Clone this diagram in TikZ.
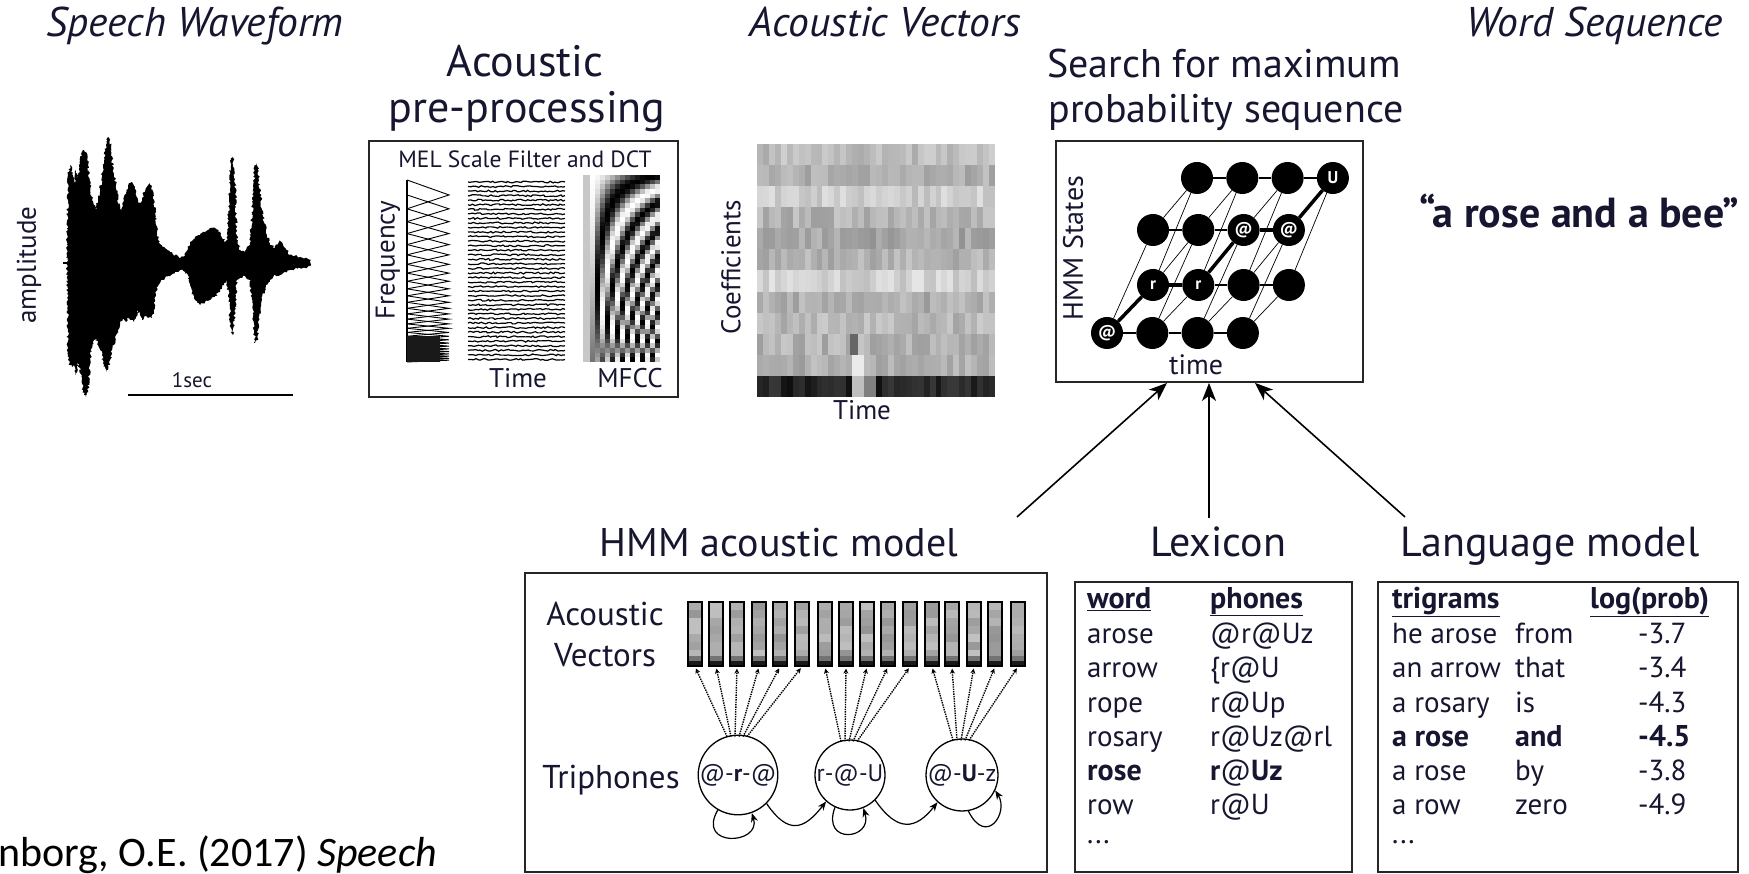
\documentclass[tikz,border=0pt]{standalone}
\usepackage{fontspec}
\setmainfont{PT Sans}
\newfontfamily\citefont{Carlito}
\usetikzlibrary{arrows.meta,calc,decorations.pathmorphing}
\definecolor{textcol}{RGB}{22,22,48}
\newcommand{\fsz}[1]{\fontsize{#1}{#1}\selectfont}

\begin{document}
\begin{tikzpicture}[x=1pt,y=-1pt,
  lbl/.style={inner sep=0pt, text=textcol},
  headit/.style={lbl, font=\fsz{41.5}\itshape, anchor=base},
  head/.style={lbl, font=\fsz{40}, anchor=base},
  small/.style={lbl, font=\fsz{27}},
  tab/.style={lbl, font=\fsz{29}, anchor=base west},
  tabb/.style={lbl, font=\fsz{30}\bfseries, anchor=base west},
  frame/.style={draw=black!85, line width=1.8pt, inner sep=0pt},
  st/.style={circle, fill=black, minimum size=32pt, inner sep=0pt, text=white, font=\fsz{17}\bfseries},
  latthin/.style={line width=0.7pt},
  latrow/.style={line width=1.3pt},
  latpath/.style={line width=3.5pt},
  tri/.style={circle, draw, line width=1.3pt, minimum size=70pt, inner sep=0pt, font=\fsz{24}, text=textcol},
  bar/.style={draw, line width=1.3pt, minimum width=14pt, minimum height=64pt, inner sep=0pt},
  feed/.style={densely dotted, line width=1.4pt, shorten >=2pt, -{Stealth[length=5pt,width=5pt]}},
  trans/.style={line width=1.2pt, -{Stealth[length=9pt,width=7pt]}},
  bigarrow/.style={line width=1.6pt, -{Stealth[length=18pt,width=14pt,inset=5pt]}}
]
\fill[white] (0,0) rectangle (1749,874);
\useasboundingbox (0,0) rectangle (1749,874);

% ---------- column titles ----------
\node[headit] (tWave) at (195,37) {Speech Waveform};
\node[headit] (tVec) at (885,37) {Acoustic Vectors};
\node[headit, anchor=base east] (tWord) at (1723,37) {Word Sequence};
\node[head, font=\fsz{44}] (tAc1) at (525,77) {Acoustic};
\node[head, font=\fsz{44}] (tAc2) at (527,123) {pre-processing};
\node[head] (tSe1) at (1224,78) {Search for maximum};
\node[head] (tSe2) at (1226,123) {probability sequence};

% ---------- speech waveform ----------
\node[lbl, font=\fsz{27}, rotate=90] (amp) at (29,265) {amplitude};
\draw[line width=1.2pt] (63,263) -- (70,263);
\fill[black, decorate, decoration={random steps, segment length=1.6pt, amplitude=1.3pt}]
  plot coordinates {(67,262) (68,175) (70,165) (72,168) (74,185) (76,170) (78,178) (80,160) (82,152) (84,150) (86,152) (88,165) (90,185) (92,200) (94,205) (96,210) (98,200) (100,190) (102,175) (104,160) (106,145) (108,137) (110,140) (112,160) (114,175) (116,185) (118,200) (120,208) (122,213) (124,200) (126,192) (128,186) (130,183) (132,182) (134,186) (136,195) (138,200) (140,203) (142,198) (144,192) (146,188) (148,185) (150,183) (152,186) (154,200) (156,225) (158,240) (160,244) (165,248) (170,252) (175,255) (180,258) (185,256) (188,248) (190,242) (195,237) (200,235) (205,232) (210,228) (215,228) (220,232) (224,240) (227,245) (229,200) (231,160) (233,157) (235,180) (237,240) (240,250) (245,252) (250,245) (253,200) (255,165) (257,163) (259,180) (262,210) (266,230) (270,245) (275,248) (280,240) (283,245) (290,255) (300,257) (305,258) (310,261)
   (310,266) (305,268) (300,268) (290,270) (283,273) (280,275) (275,275) (270,280) (266,285) (262,300) (259,320) (257,340) (255,343) (253,310) (250,280) (245,276) (240,278) (237,280) (235,310) (233,335) (231,333) (229,300) (227,280) (224,285) (220,292) (215,296) (210,300) (205,302) (200,305) (195,300) (190,285) (188,275) (185,272) (180,270) (175,272) (170,276) (165,278) (160,283) (158,286) (156,295) (154,310) (152,318) (150,317) (148,318) (146,316) (144,318) (142,320) (140,315) (138,310) (136,318) (134,322) (132,320) (130,320) (128,318) (126,322) (124,318) (122,320) (120,325) (118,330) (116,335) (114,345) (112,350) (110,360) (108,370) (106,372) (104,365) (102,355) (100,350) (98,345) (96,338) (94,340) (92,345) (90,365) (88,390) (86,397) (84,395) (82,380) (80,368) (78,362) (76,375) (74,365) (72,367) (70,365) (68,360) (67,265)} -- cycle;
\draw[line width=1.4pt] (128,395) -- (293,395);
\node[lbl, font=\fsz{21}, anchor=base] (sec) at (192,388) {1sec};

% ---------- acoustic pre-processing ----------
\node[frame, minimum width=309pt, minimum height=256pt] (pre) at (523.5,269) {};
\node[lbl, font=\fsz{23.5}, anchor=base] (mel) at (525,168) {MEL Scale Filter and DCT};
\node[small, rotate=90] (freq) at (388,260) {Frequency};
% triangular filter bank
\draw[line width=2.6pt] (407,180) -- (407,362);
\foreach \k in {1,...,28}{
  \pgfmathsetmacro\ya{362-182*(exp(2.2*(\k-1)/29)-1)/(exp(2.2)-1)}
  \pgfmathsetmacro\yb{362-182*(exp(2.2*\k/29)-1)/(exp(2.2)-1)}
  \pgfmathsetmacro\yc{362-182*(exp(2.2*(\k+1)/29)-1)/(exp(2.2)-1)}
  \draw[line width=0.9pt] (407,\ya) -- (449,\yb) -- (407,\yc);
}
\fill[black!90] (407,336) rectangle (440,362);
% filter outputs over time
\foreach \j in {0,...,39}{
  \pgfmathsetmacro\yy{182+\j*4.55}
  \draw[line width=1.2pt, decorate, decoration={random steps, segment length=2.5pt, amplitude=0.9pt}] (468,\yy) -- (565,\yy);
}
\node[small, anchor=base] (tTime) at (518,388) {Time};
% DCT basis image
\fill[black!22] (583,175) rectangle (590,362);
\foreach \c in {0,...,13}{
  \foreach \r in {0,...,39}{
    \pgfmathsetmacro\g{50-50*cos(180*((\c+0.5)/14)*(1+14*(\r+0.5)/40))}
    \fill[black!\g] ({590+\c*5},{175+\r*4.675}) rectangle +(5.3,4.95);
  }
}
\node[small, anchor=base] (mfcc) at (630,388) {MFCC};

% ---------- acoustic vectors ----------
\pgfmathsetseed{11}
\foreach \r/\base in {0/26,1/32,2/20,3/30,4/35,5/30,6/18,7/32,8/28,9/30,10/32,11/86}{
  \foreach \c in {0,...,39}{
    \pgfmathsetmacro\g{max(0,min(100,\base+16*rnd-8))}
    \fill[black!\g] ({757+\c*5.95},{144+\r*21.08}) rectangle +(6.2,21.3);
  }
}
\fill[black!8] (852,355) rectangle (864,376);
\fill[black!25] (852,376) rectangle (864,397);
\fill[black!50] (864,376) rectangle (876,397);
\fill[black!60] (850,334) rectangle (858,355);
\node[lbl, font=\fsz{27}, rotate=90] (coef) at (731,267) {Coefficients};
\node[lbl, font=\fsz{27}, anchor=base] (vTime) at (862,420) {Time};

% ---------- search lattice ----------
\node[frame, minimum width=307pt, minimum height=241pt] (search) at (1209.5,261.5) {};
\node[lbl, font=\fsz{28}, rotate=90] (hmmst) at (1073,248) {HMM States};
\node[lbl, font=\fsz{28}, anchor=base] (ltime) at (1196,375) {time};
\foreach \r/\y/\xs in {0/333/1107,1/285/1153,2/230/1153,3/178/1197}{
  \foreach \c in {0,...,3}{
    \coordinate (p\r\c) at ({\xs+45.3*\c},\y);
  }
}
\node[st] (t00) at (p00) {@};
\node[st] (t01) at (p01) {};
\node[st] (t02) at (p02) {};
\node[st] (t03) at (p03) {};
\node[st] (t10) at (p10) {r};
\node[st] (t11) at (p11) {r};
\node[st] (t12) at (p12) {};
\node[st] (t13) at (p13) {};
\node[st] (t20) at (p20) {};
\node[st] (t21) at (p21) {};
\node[st] (t22) at (p22) {@};
\node[st] (t23) at (p23) {@};
\node[st] (t30) at (p30) {};
\node[st] (t31) at (p31) {};
\node[st] (t32) at (p32) {};
\node[st] (t33) at (p33) {U};
% row links
\foreach \r in {0,...,3}{
  \draw[latrow] (t\r0) -- (t\r1);
  \draw[latrow] (t\r1) -- (t\r2);
  \draw[latrow] (t\r2) -- (t\r3);
}
% diagonal links
\foreach \c in {0,...,3}{
  \draw[latthin] (t0\c) -- (t1\c);
  \draw[latthin] (t2\c) -- (t3\c);
  \draw[latthin] (t0\c) -- (t2\c);
  \draw[latthin] (t1\c) -- (t3\c);
}
\foreach \c/\d in {0/1,1/2,2/3}{
  \draw[latthin] (t1\c) -- (t2\d);
}
% best path
\draw[latpath] (t00) -- (t10);
\draw[latpath] (t10) -- (t11);
\draw[latpath] (t11) -- (t22);
\draw[latpath] (t22) -- (t23);
\draw[latpath] (t23) -- (t33);

\node[lbl, font=\fsz{42}\bfseries, anchor=base] (words) at (1579,228) {“a rose and a bee”};

% ---------- knowledge sources ----------
\node[head] (tHmm) at (779,556) {HMM acoustic model};
\node[head, font=\fsz{42}] (tLex) at (1218,556) {Lexicon};
\node[head, font=\fsz{42}] (tLang) at (1550,556) {Language model};

\coordinate (sA) at (1017,517);
\coordinate (sB) at (1209,518);
\coordinate (sC) at (1405,517);
\coordinate (eA) at (1167,0);
\coordinate (eB) at (1209,0);
\coordinate (eC) at (1255,0);
\draw[bigarrow] (sA) -- (search.south -| eA);
\draw[bigarrow] (sB) -- (search.south -| eB);
\draw[bigarrow] (sC) -- (search.south -| eC);

% HMM acoustic model
\node[frame, minimum width=522pt, minimum height=299pt] (hmm) at (786,722.5) {};
\node[lbl, font=\fsz{33}, anchor=base] (hAc) at (605,625) {Acoustic};
\node[lbl, font=\fsz{33}, anchor=base] (hVe) at (605,666) {Vectors};
\node[lbl, font=\fsz{33}, anchor=base] (hTri) at (611,788) {Triphones};
\pgfmathsetseed{5}
\foreach \x [count=\i] in {695,716,737,759,780,802,825,846,867,888,910,932,952,974,995,1018}{
  \foreach \s in {0,...,6}{
    \pgfmathsetmacro\g{24+18*rnd}
    \fill[black!\g] ({\x-7},{602+\s*8}) rectangle +(14,8.3);
  }
  \fill[black!55] ({\x-7},656) rectangle +(14,5);
  \fill[black!90] ({\x-7},661) rectangle +(14,5);
  \node[bar] (b\i) at (\x,634) {};
}
\node[tri] (c1) at (738,775) {@-\textbf{r}-@};
\node[tri] (c2) at (850,775) {r-@-U};
\node[tri] (c3) at (962,775) {@-\textbf{U}-z};
\foreach \b/\o in {1/-11,2/-7,3/-3,4/1,5/5,6/9}{
  \draw[feed] ($(c1.north)+(\o,2)$) -- (b\b.south);
}
\foreach \b/\o in {7/-9,8/-5,9/-1,10/3,11/7}{
  \draw[feed] ($(c2.north)+(\o,2)$) -- (b\b.south);
}
\foreach \b/\o in {12/-9,13/-5,14/-1,15/3,16/7}{
  \draw[feed] ($(c3.north)+(\o,2)$) -- (b\b.south);
}
\draw[trans] (c1.240) .. controls +(-22,38) and +(10,32) .. (c1.290);
\draw[trans] (c1.315) .. controls +(22,32) and +(-22,28) .. (c2.228);
\draw[trans] (c2.245) .. controls +(-14,38) and +(10,32) .. (c2.292);
\draw[trans] (c2.315) .. controls +(22,32) and +(-22,28) .. (c3.228);
\draw[trans] (c3.280) .. controls +(18,36) and +(14,22) .. (c3.335);

% Lexicon
\node[frame, minimum width=277pt, minimum height=290pt] (lex) at (1213.5,727) {};
\node[tabb] (lw0) at (1087,608) {\underline{word}};
\node[tabb] (lp0) at (1210,608) {\underline{phones}};
\node[tab] (lw1) at (1087,643) {arose};   \node[tab] (lp1) at (1210,643) {@r@Uz};
\node[tab] (lw2) at (1087,677) {arrow};   \node[tab] (lp2) at (1210,677) {\{r@U};
\node[tab] (lw3) at (1087,712) {rope};    \node[tab] (lp3) at (1210,712) {r@Up};
\node[tab] (lw4) at (1087,746) {rosary};  \node[tab] (lp4) at (1210,746) {r@Uz@rl};
\node[tabb] (lw5) at (1087,780) {rose};   \node[tab] (lp5) at (1210,780) {\textbf{r}@\textbf{Uz}};
\node[tab] (lw6) at (1087,814) {row};     \node[tab] (lp6) at (1210,814) {r@U};
\node[tab] (lw7) at (1087,843) {...};

% Language model
\node[frame, minimum width=360pt, minimum height=290pt] (lang) at (1558,727) {};
\node[tabb] (g0) at (1392,608) {\underline{trigrams}};
\node[tabb] (q0) at (1590,608) {\underline{log(prob)}};
\node[tab] (g1) at (1392,643) {he arose}; \node[tab] (h1) at (1515,643) {from}; \node[tab] (q1) at (1638,643) {-3.7};
\node[tab] (g2) at (1392,677) {an arrow}; \node[tab] (h2) at (1515,677) {that}; \node[tab] (q2) at (1638,677) {-3.4};
\node[tab] (g3) at (1392,712) {a rosary}; \node[tab] (h3) at (1515,712) {is};   \node[tab] (q3) at (1638,712) {-4.3};
\node[tabb] (g4) at (1392,746) {a rose};  \node[tabb] (h4) at (1515,746) {and}; \node[tabb] (q4) at (1638,746) {-4.5};
\node[tab] (g5) at (1392,780) {a rose};   \node[tab] (h5) at (1515,780) {by};   \node[tab] (q5) at (1638,780) {-3.8};
\node[tab] (g6) at (1392,814) {a row};    \node[tab] (h6) at (1515,814) {zero}; \node[tab] (q6) at (1638,814) {-4.9};
\node[tab] (g7) at (1392,843) {...};

% citation
\node[inner sep=0pt, font=\citefont\fsz{42}, anchor=base west] (cite) at (-2,866) {nborg, O.E. (2017) \textit{Speech}};
\end{tikzpicture}
\end{document}
